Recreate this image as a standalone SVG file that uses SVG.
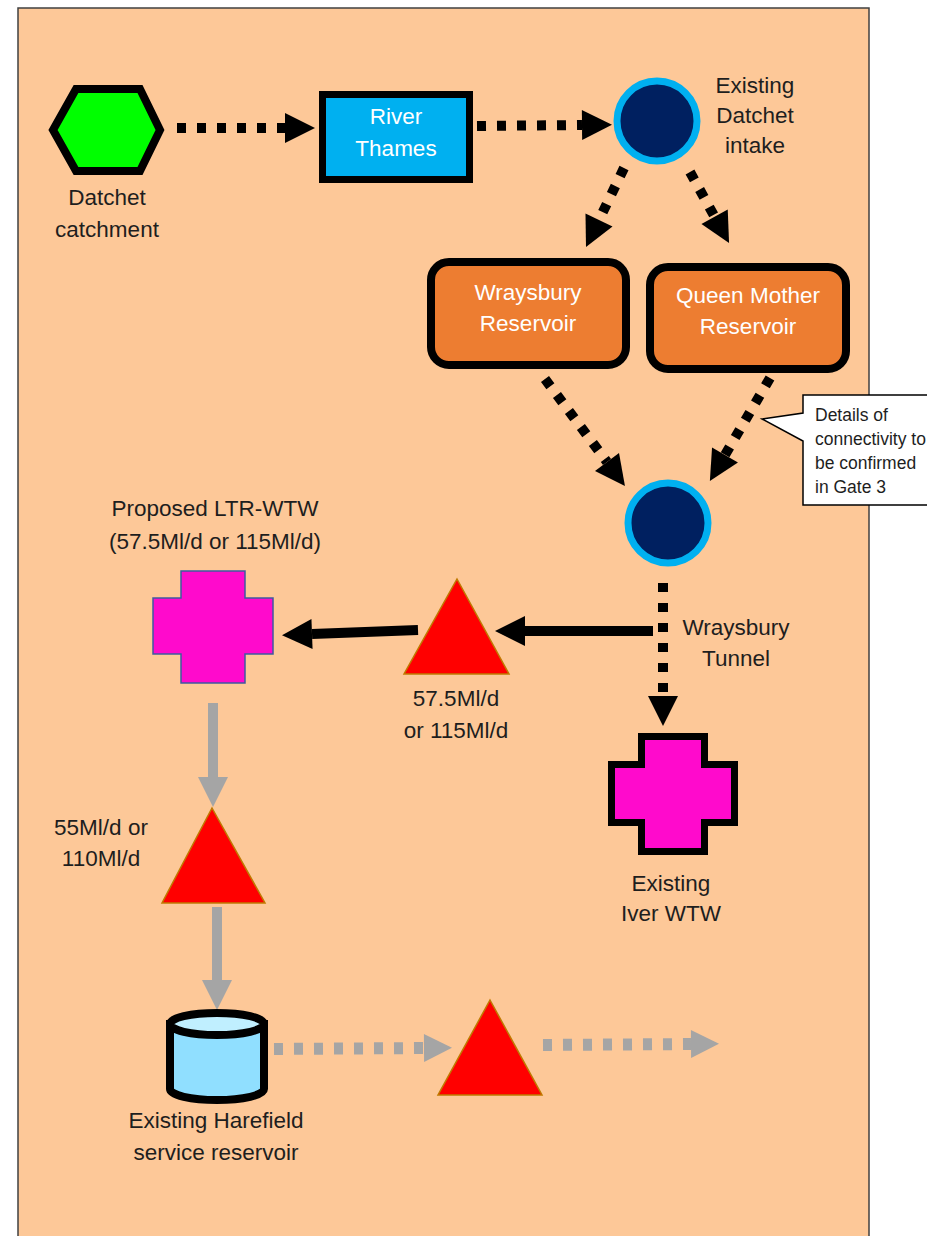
<svg xmlns="http://www.w3.org/2000/svg" width="927" height="1236" viewBox="0 0 927 1236">
<style>
text{font-family:"Liberation Sans",Arial,sans-serif;font-size:22.5px;fill:#1e1e1e;text-anchor:middle}
.w{fill:#ffffff}
.s{font-size:17.5px;text-anchor:start}
.tri{fill:#ff0000;stroke:#c07a00;stroke-width:1.5}
.circ{fill:#002060;stroke:#00b0f0;stroke-width:7}
.bd{fill:none;stroke:#000;stroke-width:10;stroke-dasharray:9 11}
.gd{fill:none;stroke:#a5a5a5;stroke-width:12;stroke-dasharray:9 11}
.bs{fill:none;stroke:#000;stroke-width:10}
.gs{fill:none;stroke:#a5a5a5;stroke-width:10}
.res{fill:#ed7d31;stroke:#000;stroke-width:8}
</style>
<defs>
<marker id="ab" markerUnits="userSpaceOnUse" markerWidth="31" markerHeight="31" refX="0" refY="15" orient="auto" overflow="visible"><path d="M0,0 L30,15 L0,30 Z" fill="#000"/></marker>
<marker id="ag" markerUnits="userSpaceOnUse" markerWidth="31" markerHeight="31" refX="0" refY="15" orient="auto" overflow="visible"><path d="M0,0 L30,15 L0,30 Z" fill="#a5a5a5"/></marker>
<marker id="agd" markerUnits="userSpaceOnUse" markerWidth="29" markerHeight="29" refX="0" refY="14" orient="auto" overflow="visible"><path d="M0,0 L28,14 L0,28 Z" fill="#a5a5a5"/></marker>
</defs>
<rect x="18" y="8" width="851" height="1240" fill="#fdc898" stroke="#404040" stroke-width="1.5"/>

<g id="connectors">
<path class="bd" d="M177,128 L285,128" marker-end="url(#ab)"/>
<path class="bd" d="M477,126 L582,125" marker-end="url(#ab)"/>
<path class="bd" d="M624,168 L599,220" marker-end="url(#ab)"/>
<path class="bd" d="M690,172 L714.6,216.7" marker-end="url(#ab)"/>
<path class="bd" d="M545,379 L607,462" marker-end="url(#ab)"/>
<path class="bd" d="M770,378 L725,455" marker-end="url(#ab)"/>
<path class="bd" d="M663,583 L663,696" marker-end="url(#ab)"/>
<path class="bs" d="M653,631 L525,631" marker-end="url(#ab)"/>
<path class="bs" d="M418,630 L312,634" marker-end="url(#ab)"/>
<path class="gs" d="M213,703 L213,777" marker-end="url(#ag)"/>
<path class="gs" d="M217,907 L217,980" marker-end="url(#ag)"/>
<path class="gd" d="M274,1049 L424,1048" marker-end="url(#agd)"/>
<path class="gd" d="M543,1045 L691,1044" marker-end="url(#agd)"/>
</g>

<g id="datchet-catchment">
<polygon points="53,130 76,89 140,89 160,130 140,171 76,171" fill="#00ff00" stroke="#000" stroke-width="8"/>
<text x="107" y="205">Datchet</text>
<text x="107" y="237">catchment</text>
</g>

<g id="river-thames">
<rect x="322.5" y="94.5" width="147" height="85" fill="#00b0f0" stroke="#000" stroke-width="7"/>
<text class="w" x="396" y="124">River</text>
<text class="w" x="396" y="156">Thames</text>
</g>

<g id="datchet-intake">
<circle class="circ" cx="657" cy="121" r="40"/>
<text x="755" y="93">Existing</text>
<text x="755" y="123">Datchet</text>
<text x="755" y="153">intake</text>
</g>

<g id="wraysbury-reservoir">
<rect class="res" x="431" y="262" width="195" height="103" rx="18"/>
<text class="w" x="528" y="300">Wraysbury</text>
<text class="w" x="528" y="331">Reservoir</text>
</g>

<g id="queen-mother-reservoir">
<rect class="res" x="650" y="267" width="196" height="102" rx="18"/>
<text class="w" x="748" y="303">Queen Mother</text>
<text class="w" x="748" y="334">Reservoir</text>
</g>

<g id="junction">
<circle class="circ" cx="668" cy="523" r="40"/>
</g>

<g id="callout">
<path d="M803,395 H940 V505 H803 V441 L762,419 L803,413 Z" fill="#fff" stroke="#000" stroke-width="1.5"/>
<text class="s" x="815" y="421">Details of</text>
<text class="s" x="815" y="445">connectivity to</text>
<text class="s" x="815" y="469">be confirmed</text>
<text class="s" x="815" y="493">in Gate 3</text>
</g>

<g id="wraysbury-tunnel-label">
<text x="736" y="635">Wraysbury</text>
<text x="736" y="666">Tunnel</text>
</g>

<g id="pump-1">
<polygon class="tri" points="457,579 509,674 404,674"/>
<text x="456" y="706">57.5Ml/d</text>
<text x="456" y="738">or 115Ml/d</text>
</g>

<g id="proposed-ltr-wtw">
<path d="M181,571 H245 V598 H273 V654 H245 V683 H181 V654 H153 V598 H181 Z" fill="#ff0acc" stroke="#3f5a9f" stroke-width="1.5"/>
<text x="215" y="516">Proposed LTR-WTW</text>
<text x="215" y="549">(57.5Ml/d or 115Ml/d)</text>
</g>

<g id="existing-iver-wtw">
<path d="M641.5,736.5 H704.5 V764.5 H734.5 V822.5 H704.5 V851.5 H641.5 V822.5 H611.5 V764.5 H641.5 Z" fill="#ff0acc" stroke="#000" stroke-width="7"/>
<text x="671" y="891">Existing</text>
<text x="671" y="921">Iver WTW</text>
</g>

<g id="pump-2">
<polygon class="tri" points="212,808 265,903 162,903"/>
<text x="101" y="835">55Ml/d or</text>
<text x="101" y="866">110Ml/d</text>
</g>

<g id="harefield-reservoir">
<path d="M170,1024 V1089 A47,11 0 0 0 264,1089 V1024 Z" fill="#90dfff" stroke="#000" stroke-width="8"/>
<ellipse cx="217" cy="1024" rx="47" ry="11" fill="#c0efff" stroke="#000" stroke-width="8"/>
<text x="216" y="1128">Existing Harefield</text>
<text x="216" y="1160">service reservoir</text>
</g>

<g id="pump-3">
<polygon class="tri" points="490,1000 542,1095 438,1095"/>
</g>
</svg>
